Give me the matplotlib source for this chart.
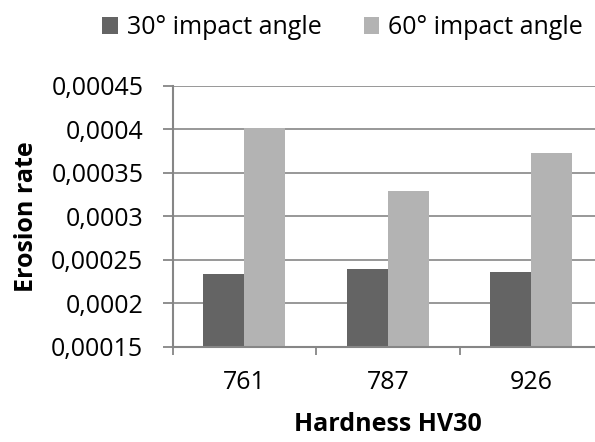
import matplotlib
matplotlib.use("Agg")
import matplotlib.pyplot as plt
from matplotlib.patches import Patch
import numpy as np

categories = ["761", "787", "926"]
series_names = ["30° impact angle", "60° impact angle"]
angle30 = [0.000233, 0.000239, 0.000236]
angle60 = [0.000401, 0.000329, 0.000373]
ytick_values = [0.00015, 0.0002, 0.00025, 0.0003, 0.00035, 0.0004, 0.00045]
ytick_labels = ["0,00015", "0,0002", "0,00025", "0,0003", "0,00035", "0,0004", "0,00045"]
xlabel = "Hardness HV30"
ylabel = "Erosion rate"

plt.rcParams['font.family'] = ['Open Sans', 'DejaVu Sans']
FS = 18
dark = "#646464"
light = "#b3b3b3"
gridc = "#868686"

fig = plt.figure(figsize=(5.95, 4.42), dpi=100)
ax = fig.add_axes([0.2903, 0.2156, 0.7235, 0.5905])

x = np.arange(len(categories))
bw = 1 / 3.5
ax.bar(x - bw / 2, angle30, bw, color=dark, zorder=3, label=series_names[0])
ax.bar(x + bw / 2, angle60, bw, color=light, zorder=3, label=series_names[1])

ax.set_xlim(-0.5, len(categories) - 0.5)
ax.set_ylim(ytick_values[0], ytick_values[-1])
ax.set_yticks(ytick_values)
ax.set_yticklabels(ytick_labels, fontsize=FS)
ax.set_xticks(x)
ax.set_xticklabels(categories, fontsize=FS)
ax.set_xticks(np.arange(len(categories) + 1) - 0.5, minor=True)
ax.tick_params(axis='x', which='major', length=0, pad=17)
ax.tick_params(axis='x', which='minor', length=6, width=1.3, color=gridc, direction='out')
ax.tick_params(axis='y', length=7.2, width=1.3, color=gridc, pad=14)

ax.yaxis.grid(True, color=gridc, linewidth=1.2, zorder=0)
ax.set_axisbelow(True)
for s in ['top', 'right']:
    ax.spines[s].set_visible(False)
for s in ['left', 'bottom']:
    ax.spines[s].set_color(gridc)
    ax.spines[s].set_linewidth(1.5)
ax.spines['bottom'].set_zorder(4)

ax.set_xlabel(xlabel, fontsize=FS, fontweight='bold', labelpad=12)
ax.set_ylabel(ylabel, fontsize=FS, fontweight='bold', labelpad=9)

handles = [Patch(facecolor=dark), Patch(facecolor=light)]
fig.legend(handles, series_names, loc='center', bbox_to_anchor=(0.576, 0.937),
           ncol=2, frameon=False, fontsize=FS, handlelength=0.62, handleheight=0.62,
           handletextpad=0.36, columnspacing=1.7, borderpad=0, borderaxespad=0)

fig.savefig("out.png", dpi=100)
